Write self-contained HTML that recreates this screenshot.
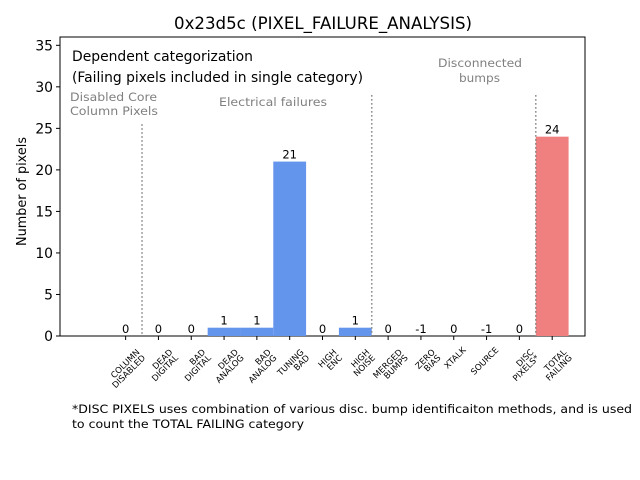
<!DOCTYPE html>
<html><head><meta charset="utf-8"><style>
body{margin:0;background:#fff}
svg{display:block;font-family:"DejaVu Sans","Liberation Sans",sans-serif}
</style></head><body>
<svg id="chart" width="640" height="480" viewBox="0 0 640 480">
<text x="174" y="29" font-size="16.7" textLength="298" lengthAdjust="spacingAndGlyphs">0x23d5c (PIXEL_FAILURE_ANALYSIS)</text>
<rect x="60" y="37" width="525" height="299" fill="none" stroke="#000" stroke-width="1"/>
<g id="bars"></g>
<g id="vlines"></g>
<g id="yticks"></g>
<g id="xticks"></g>
<text transform="translate(26,191.5) rotate(-90)" font-size="13.5" text-anchor="middle" textLength="109" lengthAdjust="spacingAndGlyphs">Number of pixels</text>
<text x="72" y="61" font-size="13.9" textLength="181" lengthAdjust="spacingAndGlyphs">Dependent categorization</text>
<text x="72" y="82" font-size="13.9" textLength="291" lengthAdjust="spacingAndGlyphs">(Failing pixels included in single category)</text>
<text font-size="11.5" fill="#808080"><tspan x="70" y="101" textLength="87" lengthAdjust="spacingAndGlyphs">Disabled Core</tspan><tspan x="70" y="115" textLength="88" lengthAdjust="spacingAndGlyphs">Column Pixels</tspan></text>
<text x="219" y="106" font-size="11.5" fill="#808080" textLength="108" lengthAdjust="spacingAndGlyphs">Electrical failures</text>
<text font-size="11.5" fill="#808080"><tspan x="438" y="67" textLength="84" lengthAdjust="spacingAndGlyphs">Disconnected</tspan><tspan x="459" y="82" textLength="41" lengthAdjust="spacingAndGlyphs">bumps</tspan></text>
<text font-size="11.5"><tspan x="72" y="413" textLength="560" lengthAdjust="spacingAndGlyphs">*DISC PIXELS uses combination of various disc. bump identificaiton methods, and is used</tspan><tspan x="72" y="428" textLength="232" lengthAdjust="spacingAndGlyphs">to count the TOTAL FAILING category</tspan></text>
</svg>
<script>
const categories=[["COLUMN","DISABLED"],["DEAD","DIGITAL"],["BAD","DIGITAL"],["DEAD","ANALOG"],["BAD","ANALOG"],["TUNING","BAD"],["HIGH","ENC"],["HIGH","NOISE"],["MERGED","BUMPS"],["ZERO","BIAS"],["XTALK"],["SOURCE"],["DISC","PIXELS*"],["TOTAL","FAILING"]];
const values=[0,0,0,1,1,21,0,1,0,-1,0,-1,0,24];
const yTicks=[0,5,10,15,20,25,30,35];
const separators=[0.5,7.5,12.5];
const separatorTops=[25.5,29,29];
const NS="http://www.w3.org/2000/svg";
const X0=60,X1=585,Y0=336,Y1=37;
const xs=i=>X0+(i+2)/16*(X1-X0);
const ys=v=>Y0-Math.max(v,0)/36*(Y0-Y1);
function mk(t,a,p){const e=document.createElementNS(NS,t);for(const k in a)e.setAttribute(k,a[k]);p.appendChild(e);return e;}
const bars=document.getElementById('bars');
values.forEach((v,i)=>{
  const w=xs(0.5)-xs(-0.5);
  if(v>0){
    const r=mk('rect',{x:xs(i)-w/2,y:ys(v),width:w,height:Y0-ys(v),fill:i===13?'#f08080':'#6495ed'},bars);
    
    
  }
  const t=mk('text',{x:xs(i),y:ys(v)-3,'font-size':11.5,'text-anchor':'middle'},bars);
  t.textContent=v;
  
  
});
const vl=document.getElementById('vlines');
separators.forEach((s,k)=>{
  const l=mk('line',{x1:xs(s),x2:xs(s),y1:ys(separatorTops[k]),y2:Y0,stroke:'#808080','stroke-width':1.5,'stroke-dasharray':'1.5,2.5'},vl);
  
  
});
const yt=document.getElementById('yticks');
yTicks.forEach(v=>{
  const y=ys(v);
  mk('line',{x1:X0-4,x2:X0,y1:y,y2:y,stroke:'#000'},yt);
  const t=mk('text',{x:X0-7,y:y+5,'font-size':13.9,'text-anchor':'end'},yt);
  t.textContent=v;
  
  
});
const xt=document.getElementById('xticks');
categories.forEach((c,i)=>{
  const x=xs(i);
  mk('line',{x1:x,x2:x,y1:Y0,y2:Y0+4,stroke:'#000'},xt);
  const t=mk('text',{'font-size':8.5,'text-anchor':'end',transform:`translate(${x+9},${Y0+11}) rotate(-45)`},xt);
  
  
  c.forEach((line,j)=>{
    const ts=mk('tspan',{x:0,y:(j+1)*8-(c.length===1?3:0)},t);
    ts.textContent=line;
  });
});
</script>
</body></html>
